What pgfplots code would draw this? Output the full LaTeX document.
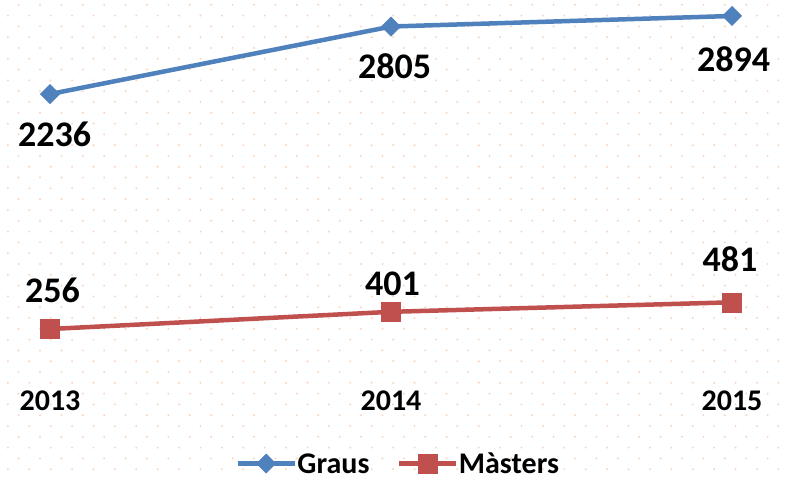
\documentclass[border=0pt]{standalone}
\usepackage{fontspec}
\setmainfont{Carlito}
\usepackage{pgfplots}
\usepackage{pgfplotstable}
\pgfplotsset{compat=1.18}
\definecolor{cGraus}{HTML}{4F81BD}
\definecolor{cMast}{HTML}{C0504D}
\definecolor{cDot}{RGB}{251,214,186}

% x  y  label  label shift (pt)
\pgfplotstableread{
x y lab dx dy
2013 2236 2236 4.5 -40.5
2014 2805 2805 3.6 -39.5
2015 2894 2894 1.6 -43.2
}\graus
\pgfplotstableread{
x y lab dx dy
2013 256 256 2.6 38.4
2014 401 401 1.6 28.4
2015 481 481 -1.9 43.3
}\masters

\begin{document}
\begin{tikzpicture}
\path[use as bounding box, fill=white] (-50pt,-119.6pt) rectangle (736pt,359.4pt);
% dotted background
\begin{scope}[x=1pt,y=1pt]
\foreach \j in {0,...,43}{
  \pgfmathsetmacro\py{4.8+10.8*\j}
  \pgfmathsetmacro\ox{mod(\j,2)==0 ? 18.6 : 7.9}
  \foreach \i in {0,...,36}{
    \fill[cDot] ({\ox+21.4*\i-50},{359.4-\py}) circle (1.1);
  }
}
\end{scope}
\begin{axis}[scale only axis, width=682pt, height=356pt,
  xmin=2013, xmax=2015, ymin=0, ymax=3000, clip=false,
  axis line style={draw=none}, major tick length=0pt,
  ytick=\empty, xtick={2013,2014,2015}, xticklabels={2013,2014,2015},
  xticklabel style={font=\fontsize{30}{32}\selectfont\bfseries, anchor=center, yshift=-41.6pt},
  point meta=explicit symbolic,
  nodes near coords,
  visualization depends on={\thisrow{dx} \as \dx},
  visualization depends on={\thisrow{dy} \as \dy},
  every node near coord/.append style={font=\fontsize{36}{40}\selectfont\bfseries,
    text=black, anchor=center, xshift=\dx, yshift=\dy},
  legend columns=2,
  legend style={draw=none, fill=none, at={(0.5095,-0.2925)}, anchor=center,
    font=\fontsize{30}{32}\selectfont\bfseries, inner sep=0pt, outer sep=0pt,
    nodes={inner sep=0.5pt, text depth=0pt},
    /tikz/every even column/.append style={column sep=27pt}},
  legend image code/.code={\draw[mark repeat=2, mark phase=2, #1]
    plot coordinates {(0pt,0pt)(28.5pt,0pt)(57pt,0pt)};}]
\addplot[cGraus, line width=4.5pt, mark=square*,
  mark options={rotate=45, line width=0.5pt, fill=cGraus}, mark size=6.8pt]
  table[x=x, y=y, meta=lab] {\graus};
\addlegendentry{Graus}
\addplot[cMast, line width=4.5pt, mark=square*,
  mark options={line width=0.5pt, fill=cMast}, mark size=9.5pt]
  table[x=x, y=y, meta=lab] {\masters};
\addlegendentry{Màsters}
\end{axis}
\end{tikzpicture}
\end{document}
